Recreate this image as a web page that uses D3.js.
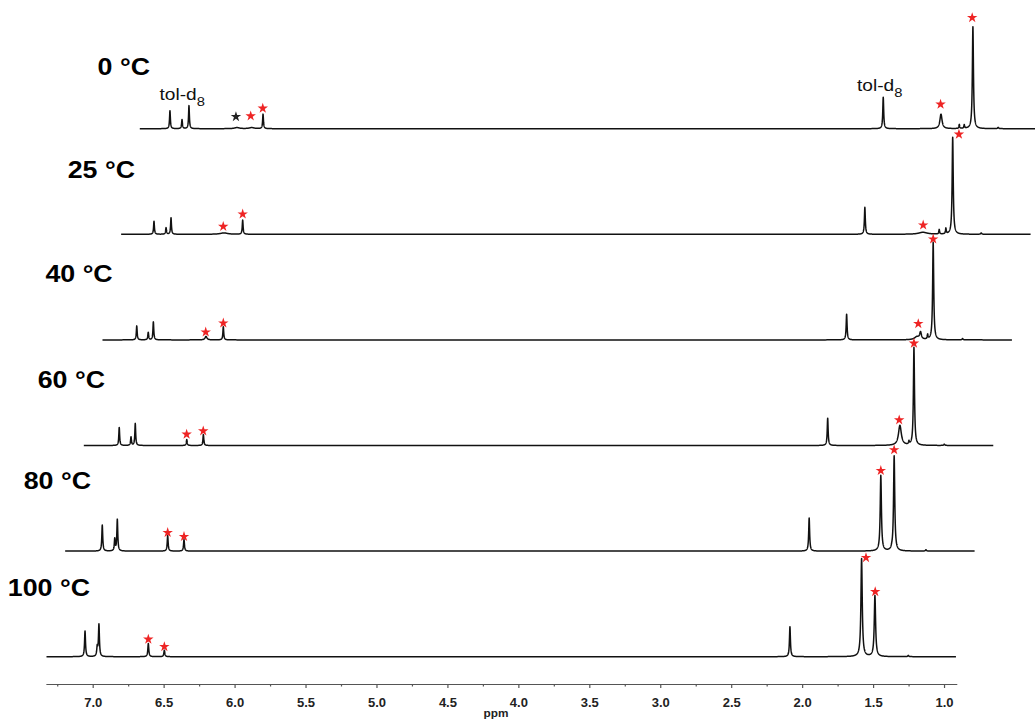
<!DOCTYPE html>
<html><head><meta charset="utf-8">
<script src="https://cdn.jsdelivr.net/npm/d3@7"></script>
<style>body{margin:0;background:#fff} svg{display:block}</style>
</head><body><svg id="c" width="1035" height="722"></svg>
<script>
// ---------- DATA ----------
// rows from bottom to top
const temperatures = ["100 °C", "80 °C", "60 °C", "40 °C", "25 °C", "0 °C"];

// peaks: [chemical shift (ppm), intensity, half-width (ppm)]
const peaks100 = [
  [7.054, 25.7, 0.004], [6.968, 9, 0.004], [6.956, 32.0, 0.004],
  [6.608, 13.2, 0.004], [6.495, 6.5, 0.004],
  [2.086, 30, 0.004],
  [1.581, 98, 0.0055], [1.487, 61, 0.0055], [1.252, 1.3, 0.004]
];
const peaks80 = [
  [7.064, 26, 0.0038], [6.976, 12, 0.0035], [6.958, 31.5, 0.0038],
  [6.603, 15.5, 0.0038], [6.488, 11.5, 0.0038],
  [2.082, 33, 0.004],
  [1.577, 75.5, 0.005], [1.500, 1, 0.004], [1.483, 95, 0.005], [1.259, 1.3, 0.004]
];
const peaks60 = [
  [7.076, 18, 0.0035], [6.993, 8.5, 0.0035], [6.963, 22, 0.0035],
  [6.600, 6, 0.0035], [6.483, 11, 0.0035],
  [2.083, 27.3, 0.0038],
  [1.574, 20, 0.012], [1.510, 3, 0.003], [1.475, 98, 0.0045], [1.261, 1.3, 0.004]
];
const peaks40 = [
  [7.084, 14, 0.0035], [7.003, 7.5, 0.0035], [6.967, 18, 0.0035],
  [6.596, 3.5, 0.008], [6.474, 13.2, 0.0035],
  [2.081, 25.7, 0.0038],
  [1.585, 3, 0.02], [1.560, 7, 0.007], [1.510, 4.5, 0.003], [1.471, 97.5, 0.0045], [1.264, 1.3, 0.004]
];
const peaks25 = [
  [7.094, 13, 0.0035], [7.009, 6.5, 0.0035], [6.974, 16.5, 0.0035],
  [6.601, 1.4, 0.03], [6.469, 14.2, 0.0035],
  [2.084, 27, 0.0038],
  [1.675, 2, 0.035], [1.560, 4.5, 0.003], [1.513, 5.5, 0.003], [1.465, 97, 0.0045], [1.264, 1.3, 0.004]
];
const peaks0 = [
  [7.113, 18, 0.0035], [7.028, 9, 0.0035], [6.979, 23, 0.0035],
  [6.641, 1.1, 0.02], [6.537, 1.1, 0.02], [6.457, 14.5, 0.0035],
  [2.086, 31.5, 0.0038],
  [1.679, 14.5, 0.009], [1.550, 4, 0.003], [1.515, 3.6, 0.003], [1.454, 102, 0.0045], [1.276, 1.3, 0.004]
];

// star markers: [ppm, intensity level of marker centre]
const stars100 = [[6.608, 17.4], [6.495, 10], [1.550, 99], [1.485, 65]];
const stars80  = [[6.603, 18.5], [6.488, 14.5], [1.577, 80.5], [1.483, 101.2]];
const stars60  = [[6.601, 11.2], [6.484, 14.5], [1.579, 25.5], [1.475, 102.2]];
const stars40  = [[6.598, 7.8], [6.474, 16.8], [1.576, 16.2], [1.471, 100.8]];
const stars25  = [[6.606, 7.8], [6.469, 20.2], [1.673, 9.2], [1.421, 100]];
const stars0   = [[6.544, 12.7], [6.459, 20.4], [1.682, 24.4], [1.459, 111]];
const unknownStars0 = [[6.648, 12.0]];

const solventLabel = "tol-d";
const solventSub = "8";
const majorTicks = [7.0, 6.5, 6.0, 5.5, 5.0, 4.5, 4.0, 3.5, 3.0, 2.5, 2.0, 1.5, 1.0];
const minorTicks = [7.25, 6.75, 6.25, 5.75, 5.25, 4.75, 4.25, 3.75, 3.25, 2.75, 2.25, 1.75, 1.25];
const axisTitle = "ppm";
const ppmRange = [7.33, 0.91];

// ---------- LAYOUT ----------
const W = 1035, H = 722;
const rowDx = 18.66, rowDy = 105.6, baseY = 656.7;
const labelRight = [90, 91, 105, 112.7, 135, 150];
const labelBase  = [596, 489.3, 387.5, 281.7, 178.3, 75];
const allPeaks = [peaks100, peaks80, peaks60, peaks40, peaks25, peaks0];
const allStars = [stars100, stars80, stars60, stars40, stars25, stars0];
const red = "#ee2424";

const svg = d3.select("#c");
const x = d3.scaleLinear().domain(ppmRange).range([45.87, 956.8]);

function rowY(i) {
  const b = baseY - i * rowDy;
  return d3.scaleLinear().domain([0, 100]).range([b, b - 100]);
}
function lineShape(ppm, peaks) {
  let v = 0;
  for (const [p, h, g] of peaks) { const d = ppm - p; v += h * g * g / (g * g + d * d); }
  return v;
}

const line = d3.line();
allPeaks.forEach((peaks, i) => {
  const y = rowY(i), dx = i * rowDx;
  const grid = d3.range(ppmRange[1] + 0.006, ppmRange[0] - 0.004, 0.0008).concat(peaks.map(p => p[0]));
  grid.sort((a, b) => b - a);
  const pts = grid.map(p => [x(p) + dx, y(lineShape(p, peaks))]);
  svg.append("path").attr("d", line(pts))
    .attr("fill", "none").attr("stroke", "#111").attr("stroke-width", 1.5)
    .attr("stroke-linejoin", "round");
});

const star = d3.symbol().type(d3.symbolStar).size(34);
allStars.forEach((stars, i) => {
  const y = rowY(i), dx = i * rowDx;
  svg.append("g").selectAll("path").data(stars).join("path")
    .attr("d", star).attr("fill", red)
    .attr("transform", d => `translate(${x(d[0]) + dx},${y(d[1])})`);
});
svg.append("g").selectAll("path").data(unknownStars0).join("path")
  .attr("d", star).attr("fill", "#222")
  .attr("transform", d => `translate(${x(d[0]) + 5 * rowDx},${rowY(5)(d[1])})`);

// temperature labels
temperatures.forEach((t, i) => {
  svg.append("text").text(t)
    .attr("transform", `translate(${labelRight[i]},${labelBase[i]}) scale(1.15,1)`)
    .attr("text-anchor", "end")
    .attr("font-family", "Liberation Sans, Arial, sans-serif")
    .attr("font-weight", "bold").attr("font-size", 23.3).attr("fill", "#000");
});

// solvent labels
[[159.5, 100], [857, 91]].forEach(([lx, ly]) => {
  const t = svg.append("text")
    .attr("transform", `translate(${lx},${ly}) scale(1.18,1)`)
    .attr("font-family", "Liberation Sans, Arial, sans-serif")
    .attr("font-size", 16.2).attr("fill", "#111");
  t.append("tspan").text(solventLabel);
  t.append("tspan").text(solventSub).attr("font-size", 12.5).attr("dy", 5.5);
});

// axis
const gAx = svg.append("g").attr("transform", "translate(0,684)");
gAx.call(d3.axisBottom(x).tickValues(majorTicks).tickSize(4).tickSizeOuter(0)
  .tickPadding(9.5).tickFormat(d3.format(".1f")));
gAx.selectAll("text").attr("font-family", "Liberation Sans, Arial, sans-serif")
  .attr("font-weight", "bold").attr("font-size", 13).attr("fill", "#222");
const gMin = svg.append("g").attr("transform", "translate(0,684)");
gMin.call(d3.axisBottom(x).tickValues(minorTicks).tickSize(2.5).tickSizeOuter(0).tickFormat(""));
gMin.select(".domain").remove();
svg.selectAll(".domain, .tick line").attr("stroke", "#555").attr("stroke-width", 1.2);

svg.append("text").text(axisTitle)
  .attr("x", 496).attr("y", 717).attr("text-anchor", "middle")
  .attr("font-family", "Liberation Sans, Arial, sans-serif")
  .attr("font-weight", "bold").attr("font-size", 11.8).attr("fill", "#222");
</script></body></html>
